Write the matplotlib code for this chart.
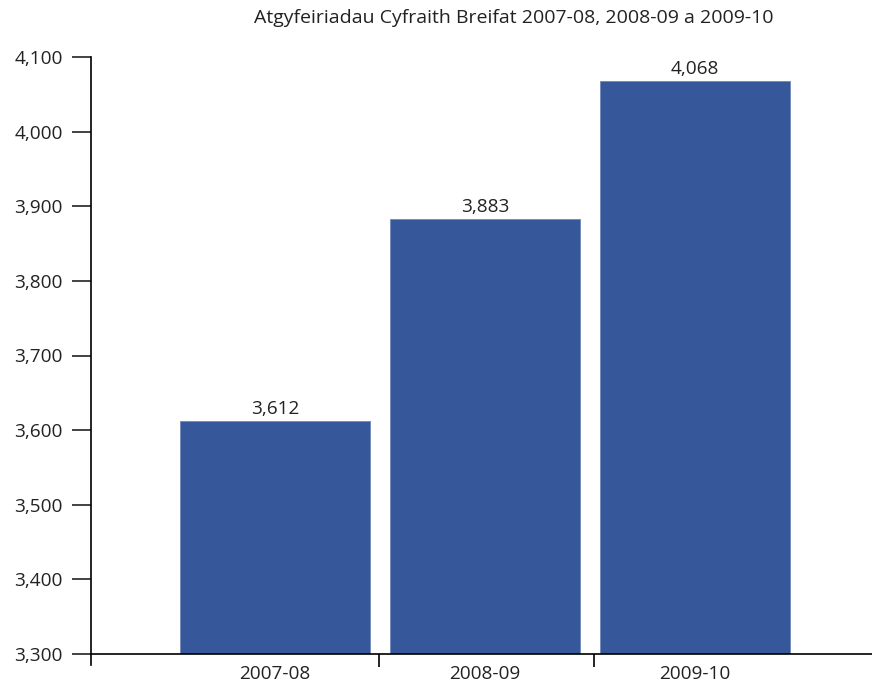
import matplotlib.pyplot as plt

# Data
years = ['2007-08', '2008-09', '2009-10']
referrals = [3612, 3883, 4068]

plt.rcParams['font.family'] = ['Open Sans', 'DejaVu Sans']

fig = plt.figure(figsize=(8.72, 6.82), dpi=100)
ax = fig.add_axes([91 / 872, 28 / 682, 1 - 91 / 872, (654 - 57) / 682])

x = list(range(len(years)))
bars = ax.bar(x, referrals, width=0.905, color='#36579a', edgecolor='#6f88bb', linewidth=0.6, zorder=2)

for xi, v in zip(x, referrals):
    ax.text(xi, v + 4, f'{v:,}', ha='center', va='bottom', fontsize=13.7, color='#222222')

ax.set_ylim(3300, 4100)
ax.set_xlim(-0.876, 2.843)
ax.set_yticks(range(3300, 4101, 100))
ax.set_yticklabels([f'{v:,}' for v in range(3300, 4101, 100)])
ax.tick_params(axis='y', direction='out', length=13.5, width=1.2, labelsize=13.7, pad=7, colors='#222222')

# category labels at bar centres, ticks between bars
ax.set_xticks(x)
ax.set_xticklabels(years)
ax.tick_params(axis='x', length=0, labelsize=13.7, pad=8, colors='#222222')
ax.set_xticks([0.495, 1.519], minor=True)
ax.tick_params(axis='x', which='minor', direction='out', length=9.5, width=1.2)

for s in ['top', 'right']:
    ax.spines[s].set_visible(False)
ax.spines['left'].set_linewidth(1.2)
ax.spines['bottom'].set_linewidth(1.2)
ax.spines['left'].set_bounds(3300 - 11 / 0.746, 4100)
ax.spines['left'].set_clip_on(False)

fig.text(514 / 872, 1 - 18 / 682, 'Atgyfeiriadau Cyfraith Breifat 2007-08, 2008-09 a 2009-10',
         ha='center', va='center', fontsize=14, color='#222222')

fig.savefig('out.png', dpi=100)
